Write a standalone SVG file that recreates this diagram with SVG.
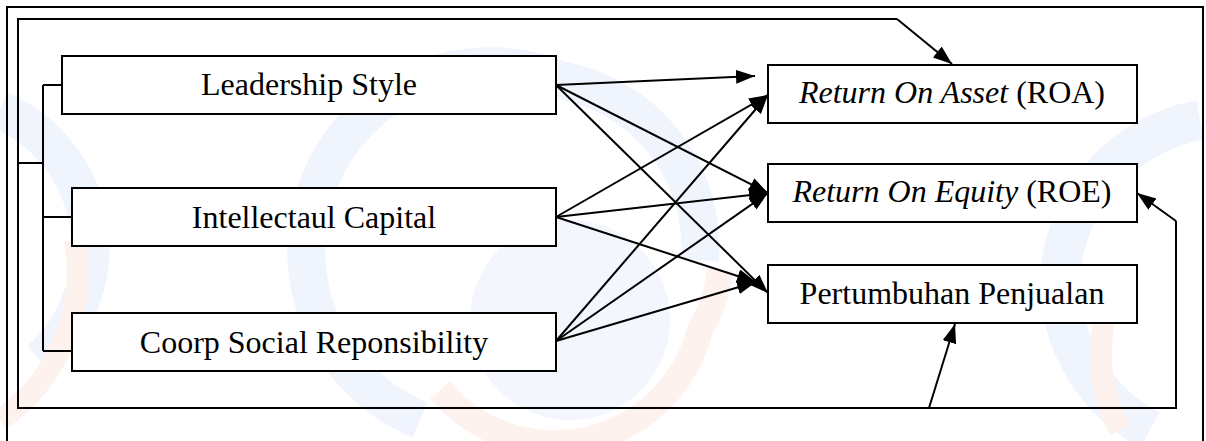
<svg xmlns="http://www.w3.org/2000/svg" width="1206" height="441" viewBox="0 0 1206 441">
<defs>
<marker id="ah" markerUnits="userSpaceOnUse" markerWidth="22" markerHeight="16" refX="19" refY="7" orient="auto">
<path d="M0,0 L19,7 L0,14 Z" fill="#000"/>
</marker>
</defs>
<style>
.box{fill:#fff;stroke:#000;stroke-width:2}
.ln{fill:none;stroke:#000;stroke-width:2}
.ar{fill:none;stroke:#000;stroke-width:2;marker-end:url(#ah)}
.t{font-family:"Liberation Serif","Times New Roman",serif;font-size:32px;fill:#000;text-anchor:middle}
.wb{fill:none;stroke:#f0f4fd}
.wo{fill:none;stroke:#fdf2ee}
</style>
<rect width="1206" height="441" fill="#fff"/>
<g id="watermark">
<path class="wb" stroke-width="38" d="M420,420 A170,170 0 0 1 560,80 A170,170 0 0 1 700,260"/>
<circle cx="570" cy="320" r="100" fill="#f3f6fd" stroke="none"/>
<path class="wo" stroke-width="26" d="M440,390 A150,150 0 0 0 700,330 A150,150 0 0 0 720,270"/>
<path class="wb" stroke-width="40" d="M1200,120 A170,170 0 0 0 1060,280 A170,170 0 0 0 1150,430"/>
<path class="wo" stroke-width="22" d="M1120,430 A160,160 0 0 1 1110,300"/>
<path class="wb" stroke-width="38" d="M0,110 A150,150 0 0 1 40,360"/>
<path class="wo" stroke-width="22" d="M0,420 A180,180 0 0 0 75,240"/>
</g>
<g id="frames">
<rect class="ln" x="7" y="7" width="1196" height="450"/>
</g>
<g id="connectors">
<path class="ln" d="M897,19 L18,19 L18,408 L1176,408 L1176,221"/>
<path class="ar" d="M897,19 L952,64"/>
<path class="ar" d="M1176,221 L1137,193"/>
<path class="ar" d="M929,408 L955,324"/>
<path class="ln" d="M18,163 L43,163 M43,85 L43,351 M43,85 L62,85 M43,217 L72,217 M43,351 L72,351"/>
<path class="ar" d="M556,85 L755,76"/>
<path class="ar" d="M556,85 L768,193"/>
<path class="ar" d="M556,85 L768,293"/>
<path class="ar" d="M556,217 L768,95"/>
<path class="ar" d="M556,217 L768,193"/>
<path class="ar" d="M556,217 L756,282"/>
<path class="ar" d="M556,341 L768,95"/>
<path class="ar" d="M556,341 L768,193"/>
<path class="ar" d="M556,341 L756,282"/>
</g>
<g id="leadership">
<rect class="box" x="62" y="56" width="494" height="58"/>
<text class="t" x="309" y="95">Leadership Style</text>
</g>
<g id="intellectual">
<rect class="box" x="72" y="188" width="484" height="58"/>
<text class="t" x="314" y="228">Intellectaul Capital</text>
</g>
<g id="csr">
<rect class="box" x="72" y="313" width="484" height="58"/>
<text class="t" x="314" y="353">Coorp Social Reponsibility</text>
</g>
<g id="roa">
<rect class="box" x="768" y="65" width="369" height="58"/>
<text class="t" x="952" y="103"><tspan font-style="italic">Return On Asset</tspan> (ROA)</text>
</g>
<g id="roe">
<rect class="box" x="768" y="164" width="369" height="58"/>
<text class="t" x="952" y="202"><tspan font-style="italic">Return On Equity</tspan> (ROE)</text>
</g>
<g id="pertumbuhan">
<rect class="box" x="768" y="265" width="369" height="58"/>
<text class="t" x="952" y="304">Pertumbuhan Penjualan</text>
</g>
</svg>
